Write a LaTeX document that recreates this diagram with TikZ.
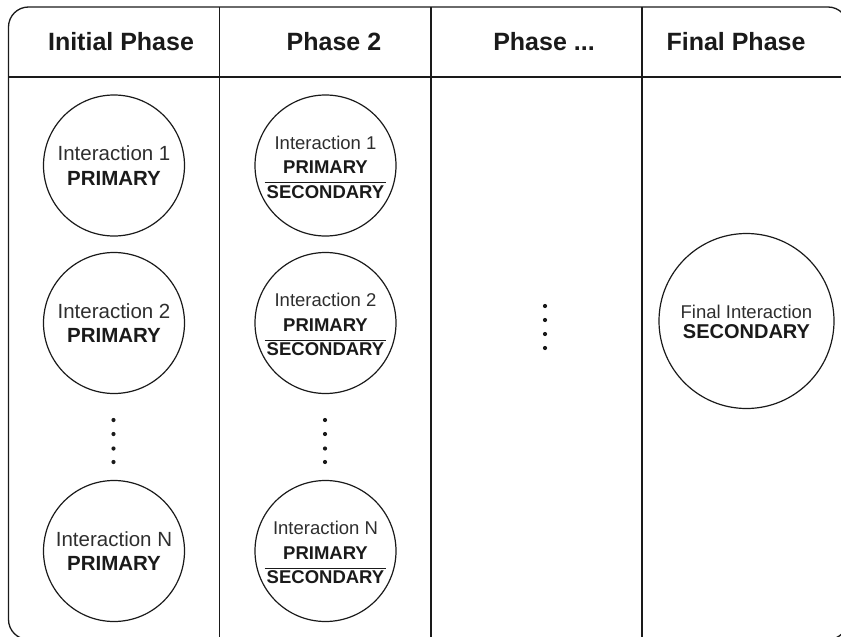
\documentclass[tikz,border=0pt]{standalone}
\usepackage{fontspec}
\setmainfont{Liberation Sans}
\definecolor{ink}{HTML}{1A1A1A}
\definecolor{soft}{HTML}{2E2E2E}
\tikzset{
  frame/.style={draw=ink, line width=1.3pt},
  bubble/.style={circle, draw=ink, line width=1.2pt, minimum size=141pt, inner sep=0pt},
  bigbubble/.style={circle, draw=ink, line width=1.2pt, minimum size=175pt, inner sep=0pt},
  head/.style={font=\fontsize{25}{30}\selectfont\bfseries, text=ink, inner sep=0pt},
  nameA/.style={font=\fontsize{20.5}{24}\selectfont, text=soft, inner sep=0pt},
  roleA/.style={font=\fontsize{20.5}{24}\selectfont\bfseries, text=ink, inner sep=0pt},
  nameB/.style={font=\fontsize{18.5}{22}\selectfont, text=soft, inner sep=0pt},
  roleB/.style={font=\fontsize{18.5}{22}\selectfont\bfseries, text=ink, inner sep=0pt},
  dotmark/.style={circle, fill=ink, inner sep=0pt, minimum size=4.2pt},
}
\begin{document}
\begin{tikzpicture}[x=1pt, y=-1pt]
\useasboundingbox (0,0) rectangle (841,637);
\clip (0,0) rectangle (841,637);

% outer table frame, header rule and column rules
\draw[frame, rounded corners=20pt] (8.5,7) rectangle (848,639.5);
\draw[frame] (8.5,77) -- (848,77);
\foreach \xx in {219.5,431,642} \draw[frame] (\xx,7) -- (\xx,639.5);

% column headings
\node[head] (h1) at (121,41.5) {Initial Phase};
\node[head] (h2) at (334,41.5) {Phase 2};
\node[head] (h3) at (544,41.5) {Phase ...};
\node[head] (h4) at (736,41.5) {Final Phase};

% initial phase
\foreach \nm/\yy/\lab in {a1/165.5/Interaction 1, a2/323/Interaction 2, aN/551/Interaction N}{
  \node[bubble] (\nm) at (114,\yy) {};
  \node[nameA] (\nm t) at ([yshift=12pt]\nm.center) {\lab};
  \node[roleA] (\nm p) at ([yshift=-12.5pt]\nm.center) {PRIMARY};
}
\foreach \yy in {420,434,448.5,462} \node[dotmark] at (113.5,\yy) {};

% phase 2
\foreach \nm/\yy/\lab in {b1/165.5/Interaction 1, b2/323/Interaction 2, bN/551/Interaction N}{
  \node[bubble] (\nm) at (325.5,\yy) {};
  \node[nameB] (\nm t) at ([yshift=23pt]\nm.center) {\lab};
  \node[roleB] (\nm p) at ([yshift=-2pt]\nm.center) {PRIMARY};
  \node[roleB] (\nm s) at ([yshift=-26.5pt]\nm.center) {SECONDARY};
  \draw[ink, line width=1.3pt] ([xshift=-2pt,yshift=2.5pt]\nm s.north west) -- ([xshift=2pt,yshift=2.5pt]\nm s.north east);
}
\foreach \yy in {420,434,448.5,462} \node[dotmark] at (325,\yy) {};

% intermediate phases
\foreach \yy in {306,320,334,348} \node[dotmark] at (545,\yy) {};

% final phase
\node[bigbubble] (f) at (746.5,321) {};
\node[nameB] (ft) at ([yshift=9pt]f.center) {Final Interaction};
\node[roleA, font=\fontsize{20}{24}\selectfont\bfseries] (fs) at ([yshift=-11pt]f.center) {SECONDARY};
\end{tikzpicture}
\end{document}
